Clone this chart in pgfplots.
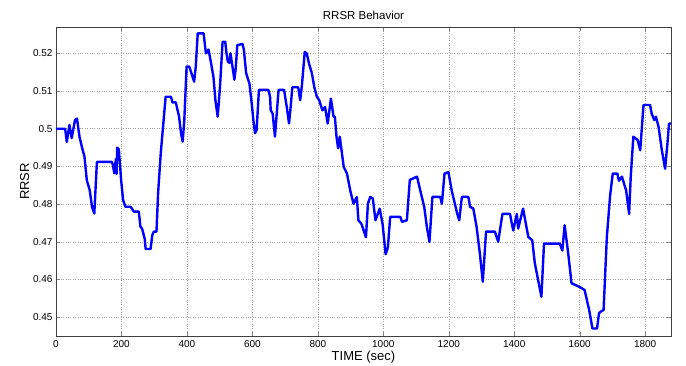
\documentclass[border=0pt]{standalone}
\usepackage{pgfplots}
\pgfplotsset{compat=1.18}
\usepackage{fontspec}
\setmainfont{Liberation Sans}
\begin{document}
\begin{tikzpicture}
\path[use as bounding box] (-56pt,-30pt) rectangle (630pt,336pt);
\begin{axis}[
  scale only axis, width=615pt, height=309pt,
  xmin=0, xmax=1879, ymin=0.445, ymax=0.527,
  xtick={0,200,...,1800},
  ytick={0.45,0.46,0.47,0.48,0.49,0.5,0.51,0.52},
  yticklabels={0.45,0.46,0.47,0.48,0.49,0.5,0.51,0.52},
  /pgf/number format/assume math mode=true,
  /pgf/number format/1000 sep={},
  tick label style={font=\fontsize{10}{12}\selectfont},
  xticklabel style={yshift=-1pt},
  tick align=inside, major tick length=4pt,
  grid=major, major grid style={dotted, gray!75, line width=0.5pt},
  axis line style={line width=0.6pt, black!75},
  title={RRSR Behavior}, title style={font=\fontsize{11.5}{13}\selectfont, yshift=-2pt},
  xlabel={TIME (sec)}, xlabel style={font=\fontsize{13}{15}\selectfont, yshift=3pt},
  ylabel={RRSR}, ylabel style={font=\fontsize{13}{15}\selectfont, yshift=-3pt},
]
\addplot[color={rgb,255:red,0;green,0;blue,255}, line width=2.4pt, line join=round] coordinates {
(0,0.500)(28,0.500)(33,0.4965)(41,0.501)(48,0.4975)(58,0.5023)(64,0.5027)(72,0.4978)(79,0.4952)(87,0.4926)(94,0.4864)(103,0.4837)(110,0.4793)(117,0.4775)(125,0.4912)(171,0.4912)(174,0.4903)(178,0.4882)(183,0.4920)(185,0.4880)(187,0.4950)(192,0.4945)(199,0.4864)(205,0.4811)(212,0.4793)(228,0.4793)(238,0.4780)(253,0.4780)(258,0.4740)(263,0.4735)(271,0.4708)(274,0.4681)(289,0.4681)(294,0.4717)(299,0.4727)(307,0.4727)(312,0.4830)(320,0.4934)(327,0.5005)(335,0.5085)(351,0.5085)(356,0.5070)(366,0.5070)(376,0.5032)(382,0.4988)(387,0.4966)(392,0.5023)(399,0.5165)(407,0.5165)(414,0.5147)(422,0.5125)(427,0.5165)(433,0.5253)(451,0.5253)(458,0.5200)(466,0.5210)(474,0.5173)(481,0.5138)(487,0.5076)(494,0.5032)(501,0.5111)(509,0.5231)(517,0.5231)(521,0.5200)(525,0.5178)(530,0.5175)(533,0.5200)(540,0.5160)(545,0.5130)(549,0.5160)(554,0.5222)(570,0.5225)(574,0.5210)(581,0.5147)(591,0.5120)(598,0.5067)(603,0.5023)(608,0.4988)(613,0.4997)(620,0.5103)(649,0.5103)(654,0.5085)(656,0.5049)(662,0.5040)(669,0.4979)(680,0.5103)(697,0.5103)(700,0.5085)(705,0.5058)(712,0.5014)(717,0.5058)(722,0.5110)(740,0.5110)(746,0.5076)(751,0.5112)(760,0.5204)(766,0.5200)(773,0.5173)(782,0.5147)(789,0.5111)(797,0.5085)(804,0.5076)(814,0.5049)(822,0.5058)(830,0.5014)(840,0.5080)(848,0.5032)(852,0.5032)(857,0.4979)(862,0.4948)(867,0.4979)(879,0.4899)(889,0.4881)(899,0.4836)(909,0.4801)(919,0.4819)(924,0.4757)(933,0.4748)(947,0.4712)(953,0.4801)(960,0.4819)(968,0.4815)(976,0.4757)(989,0.4788)(998,0.4746)(1007,0.4667)(1014,0.4685)(1021,0.4766)(1052,0.4766)(1057,0.4753)(1072,0.4757)(1081,0.4864)(1103,0.4873)(1113,0.4836)(1125,0.4793)(1133,0.4740)(1141,0.4700)(1150,0.4819)(1174,0.4819)(1179,0.4801)(1187,0.4881)(1199,0.4885)(1209,0.4836)(1226,0.4774)(1232,0.4757)(1240,0.4819)(1260,0.4819)(1265,0.4793)(1275,0.4788)(1285,0.4740)(1295,0.4669)(1304,0.4594)(1314,0.4727)(1341,0.4727)(1351,0.4700)(1364,0.4774)(1387,0.4774)(1397,0.4730)(1408,0.4774)(1412,0.4735)(1427,0.4788)(1443,0.4713)(1455,0.4704)(1463,0.4643)(1483,0.4554)(1491,0.4695)(1539,0.4695)(1547,0.4677)(1554,0.4744)(1565,0.4669)(1575,0.4590)(1600,0.4580)(1615,0.4572)(1629,0.4519)(1639,0.4470)(1653,0.4470)(1659,0.4510)(1663,0.4514)(1673,0.4519)(1683,0.4713)(1693,0.4823)(1701,0.4881)(1715,0.4881)(1720,0.4862)(1729,0.4873)(1742,0.4836)(1751,0.4774)(1756,0.4873)(1764,0.4979)(1777,0.4970)(1785,0.4943)(1795,0.5063)(1815,0.5063)(1820,0.5040)(1828,0.5023)(1833,0.5032)(1841,0.5005)(1851,0.4943)(1861,0.4894)(1868,0.4960)(1873,0.5014)(1879,0.5014)
};
\end{axis}
\end{tikzpicture}
\end{document}
